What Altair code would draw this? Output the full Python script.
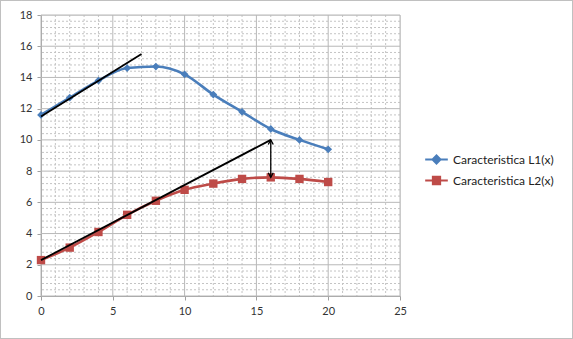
import altair as alt
import pandas as pd

x_vals = [0, 2, 4, 6, 8, 10, 12, 14, 16, 18, 20]
l1_vals = [11.6, 12.7, 13.8, 14.6, 14.7, 14.2, 12.9, 11.8, 10.7, 10.0, 9.4]
l2_vals = [2.3, 3.1, 4.1, 5.2, 6.1, 6.8, 7.2, 7.5, 7.6, 7.5, 7.3]
series_names = ["Caracteristica L1(x)", "Caracteristica L2(x)"]
colors = ["#4A7EBB", "#BE4B48"]

tan1_x = [0, 7]
tan1_y = [11.5, 15.5]
tan2_x = [0, 16]
tan2_y = [2.3, 10.0]
arrow_x = 16
arrow_top = 10.0
arrow_bottom = 7.6

x_major = [0, 5, 10, 15, 20, 25]
y_major = [0, 2, 4, 6, 8, 10, 12, 14, 16, 18]
x_minor = [v for v in range(0, 26) if v % 5 != 0]
y_minor = [round(i * 0.4, 1) for i in range(0, 46) if i % 5 != 0]

rows = []
for xv, a, b in zip(x_vals, l1_vals, l2_vals):
    rows.append({"x": xv, "y": a, "s": series_names[0]})
    rows.append({"x": xv, "y": b, "s": series_names[1]})
df = pd.DataFrame(rows)

tan_df = pd.DataFrame(
    [{"x": tan1_x[i], "y": tan1_y[i], "g": "t1"} for i in range(2)]
    + [{"x": tan2_x[i], "y": tan2_y[i], "g": "t2"} for i in range(2)]
)
arr_df = pd.DataFrame([{"x": arrow_x, "y": arrow_top, "y2": arrow_bottom}])

W, H = 359, 281
FONT = "Lato"

XS = alt.Scale(domain=[0, 25], nice=False, zero=False)
YS = alt.Scale(domain=[0, 18], nice=False, zero=False)

X_AXIS = alt.Axis(values=x_major, title=None, grid=False, ticks=True, tickSize=4,
                  tickColor="#A0A0A0", domainColor="#A0A0A0", labelFont=FONT, labelFontSize=11,
                  labelColor="#333333", labelPadding=5, labelFlush=False, labelOverlap=False)
Y_AXIS = alt.Axis(values=y_major, title=None, grid=False, ticks=True, tickSize=4,
                  tickColor="#A0A0A0", domainColor="#A0A0A0", labelFont=FONT, labelFontSize=11,
                  labelColor="#333333", labelPadding=5, labelFlush=False, labelOverlap=False)


def X(f):
    return alt.X(f, scale=XS, axis=X_AXIS)


def Y(f):
    return alt.Y(f, scale=YS, axis=Y_AXIS)


L1_SYM = "M-1.6,0L1.6,0M-0.55,0L0,-0.55L0.55,0L0,0.55Z"
L2_SYM = "M-1.6,0L1.6,0M-0.5,-0.5L0.5,-0.5L0.5,0.5L-0.5,0.5Z"

LEG = alt.Legend(
    title=None, orient="none", legendX=387, legendY=136,
    labelFont=FONT, labelFontSize=12, labelColor="#222222",
    rowPadding=4, symbolSize=200, symbolStrokeWidth=2.2, labelOffset=8,
    symbolOpacity=1,
)
CSCALE = alt.Scale(domain=series_names, range=colors)

grid_minor_x = alt.Chart(pd.DataFrame({"v": x_minor})).mark_rule(
    color="#C4C4C4", strokeWidth=1, strokeDash=[2, 2]).encode(x=X("v:Q"))
grid_minor_y = alt.Chart(pd.DataFrame({"v": y_minor})).mark_rule(
    color="#C4C4C4", strokeWidth=1, strokeDash=[2, 2]).encode(y=Y("v:Q"))
grid_major_x = alt.Chart(pd.DataFrame({"v": x_major})).mark_rule(
    color="#B8B8B8", strokeWidth=1).encode(x=X("v:Q"))
grid_major_y = alt.Chart(pd.DataFrame({"v": y_major})).mark_rule(
    color="#B8B8B8", strokeWidth=1).encode(y=Y("v:Q"))

base = alt.Chart(df)

lines = base.mark_line(interpolate="monotone", strokeWidth=2.6).encode(
    x=X("x:Q"), y=Y("y:Q"),
    color=alt.Color("s:N", scale=CSCALE, legend=LEG),
)

legend_layer = base.mark_point(filled=True, opacity=0, strokeWidth=2.2).encode(
    x=X("x:Q"), y=Y("y:Q"),
    color=alt.Color("s:N", scale=CSCALE, legend=LEG),
    stroke=alt.Stroke("s:N", scale=CSCALE, legend=LEG),
    shape=alt.Shape("s:N", scale=alt.Scale(domain=series_names, range=[L1_SYM, L2_SYM]), legend=LEG),
)

pts_l1 = alt.Chart(df[df.s == series_names[0]]).mark_point(
    filled=True, opacity=1, size=60, shape="diamond", color=colors[0]).encode(
    x=X("x:Q"), y=Y("y:Q"))
pts_l2 = alt.Chart(df[df.s == series_names[1]]).mark_point(
    filled=True, opacity=1, size=70, shape="square", color=colors[1]).encode(
    x=X("x:Q"), y=Y("y:Q"))

tangents = alt.Chart(tan_df).mark_line(color="black", strokeWidth=1.8).encode(
    x=X("x:Q"), y=Y("y:Q"), detail="g:N",
)

arrow = alt.Chart(arr_df).mark_rule(color="black", strokeWidth=1.3).encode(
    x=X("x:Q"), y=Y("y:Q"), y2="y2:Q",
)

head_up = alt.Chart(arr_df).mark_point(
    filled=False, color="black", strokeWidth=1.3, size=70, opacity=1,
    shape="M-0.6,1.1L0,0L0.6,1.1").encode(x=X("x:Q"), y=Y("y:Q"))
head_down = alt.Chart(arr_df).mark_point(
    filled=False, color="black", strokeWidth=1.3, size=70, opacity=1,
    shape="M-0.6,-1.1L0,0L0.6,-1.1").encode(x=X("x:Q"), y=Y("y2:Q"))

border = alt.Chart(pd.DataFrame([{"a": 1}])).mark_rect(
    fill=None, stroke="#808080", strokeDash=[1, 1], strokeWidth=1, clip=False
).encode(x=alt.value(-40.5), x2=alt.value(W + 172.5), y=alt.value(-14.5), y2=alt.value(H + 42.5))

chart = alt.layer(grid_minor_x, grid_minor_y, grid_major_x, grid_major_y,
                  lines, legend_layer, pts_l1, pts_l2, tangents, arrow, head_up, head_down,
                  border).properties(
    width=W, height=H,
    autosize=alt.AutoSizeParams(type="none"),
    padding={"left": 41, "top": 15, "right": 173, "bottom": 43},
).configure_view(stroke=None).configure(background="white")

chart.save("out.html", embed_options={"renderer": "svg", "actions": False})
